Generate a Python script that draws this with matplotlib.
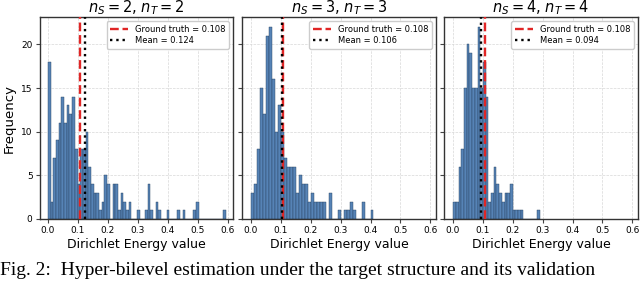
import numpy as np
import matplotlib
matplotlib.use("Agg")
import matplotlib.pyplot as plt

# histogram counts (equal-width bins)
starts = [0.0, 0.0, 0.002]
widths = [0.009, 0.010, 0.009]
counts_s2 = [18, 2, 7, 9, 11, 14, 11, 13, 12, 14,
             8, 4, 8, 8, 10, 6, 4, 3, 3, 1,
             2, 5, 4, 0, 4, 4, 1, 3, 2, 1,
             2, 0, 0, 1, 0, 0, 1, 4, 1, 0,
             2, 1, 0, 0, 1, 0, 0, 0, 1, 0,
             1, 0, 0, 0, 1, 2, 0, 0, 0, 0,
             0, 0, 0, 0, 0, 1]
counts_s3 = [3, 4, 8, 15, 12, 21, 22, 16, 10, 13,
             10, 7, 6, 6, 6, 3, 5, 4, 4, 2,
             3, 2, 2, 2, 2, 0, 3, 0, 0, 1,
             0, 1, 1, 2, 1, 0, 0, 2, 0, 0, 1]
counts_s4 = [2, 2, 6, 8, 15, 20, 19, 15, 15, 22,
             15, 18, 14, 2, 3, 6, 4, 3, 2, 3,
             3, 4, 1, 1, 1, 1, 0, 0, 0, 0, 0, 1]
all_counts = [counts_s2, counts_s3, counts_s4]
sizes = [2, 3, 4]
ground_truth = 0.108
means = [0.124, 0.106, 0.094]
xticks = [0.0, 0.1, 0.2, 0.3, 0.4, 0.5, 0.6]
yticks = [0, 5, 10, 15, 20]
caption = "Fig. 2:  Hyper-bilevel estimation under the target structure and its validation"

W, H = 640, 282
fig = plt.figure(figsize=(W / 100, H / 100), dpi=100)
lefts = [39.5, 242.3, 444.3]
ax_w = 193.5
bottom, top = 219, 17.3

axes = []
for i in range(3):
    ax = fig.add_axes([lefts[i] / W, (H - bottom) / H, ax_w / W, (bottom - top) / H],
                      sharey=axes[0] if axes else None)
    axes.append(ax)

    c = np.array(all_counts[i], dtype=float)
    edges = starts[i] + widths[i] * np.arange(len(c) + 1)
    ax.hist(edges[:-1], bins=edges, weights=c, color="#5683b6",
            edgecolor="#26405e", linewidth=0.3, zorder=2)
    ax.axvline(ground_truth, color="#e02525", linestyle="--", linewidth=1.7,
               label=f"Ground truth = {ground_truth:.3f}", zorder=3)
    ax.axvline(means[i], color="black", linestyle=":", linewidth=1.7,
               label=f"Mean = {means[i]:.3f}", zorder=3)

    n = sizes[i]
    ax.set_title(f"$n_S = {n}$, $n_T = {n}$", fontsize=10.5, pad=3)
    ax.set_xlabel("Dirichlet Energy value", fontsize=9, labelpad=2)
    ax.set_xlim(-0.028, 0.618)
    ax.set_ylim(0, 23.1)
    ax.set_xticks(xticks)
    ax.set_yticks(yticks)
    ax.tick_params(labelsize=6.5, length=3, width=0.8, pad=2, color="#444444")
    ax.grid(True, linestyle="--", linewidth=0.5, color="#d8d8d8", zorder=0)
    ax.set_axisbelow(True)
    for sp in ax.spines.values():
        sp.set_color("#333333")
        sp.set_linewidth(1.0)
    ax.legend(loc="upper right", fontsize=6, handlelength=2.2, borderpad=0.4,
              labelspacing=0.3, framealpha=1, edgecolor="#cccccc", fancybox=True)
    if i > 0:
        ax.tick_params(labelleft=False)

axes[0].set_ylabel("Frequency", fontsize=9.5, labelpad=4)

fig.text(0.0, 0.012, caption, family="Liberation Serif", fontsize=14,
         ha="left", va="bottom")

fig.savefig("out.png", dpi=100)
